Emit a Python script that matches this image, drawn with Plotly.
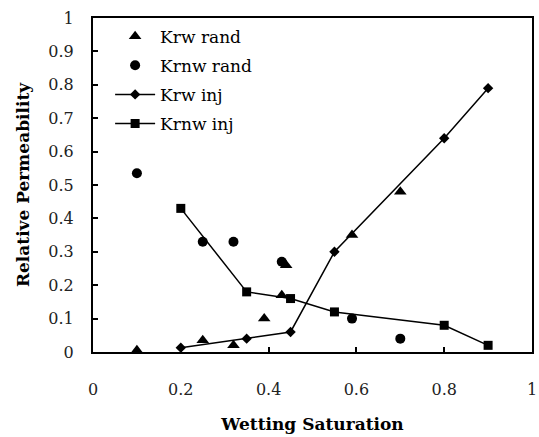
import plotly.graph_objects as go

# Relative permeability vs wetting saturation
krw_rand_x = [0.10, 0.25, 0.32, 0.39, 0.43, 0.44, 0.59, 0.70]
krw_rand_y = [0.005, 0.035, 0.02, 0.10, 0.17, 0.26, 0.35, 0.48]

krnw_rand_x = [0.10, 0.25, 0.32, 0.43, 0.59, 0.70]
krnw_rand_y = [0.535, 0.33, 0.33, 0.27, 0.10, 0.04]

krw_inj_x = [0.20, 0.35, 0.45, 0.55, 0.80, 0.90]
krw_inj_y = [0.013, 0.04, 0.06, 0.30, 0.64, 0.79]

krnw_inj_x = [0.20, 0.35, 0.45, 0.55, 0.80, 0.90]
krnw_inj_y = [0.43, 0.18, 0.16, 0.12, 0.08, 0.02]

x_ticks = [0, 0.2, 0.4, 0.6, 0.8, 1]
y_ticks = [0, 0.1, 0.2, 0.3, 0.4, 0.5, 0.6, 0.7, 0.8, 0.9, 1]

FONT = "DejaVu Serif"
BLACK = "black"

fig = go.Figure()
fig.add_trace(go.Scatter(
    x=krw_rand_x, y=krw_rand_y, mode="markers", name="Krw rand",
    legendgroup="g1",
    marker=dict(symbol="triangle-up", size=11, color=BLACK)))
fig.add_trace(go.Scatter(
    x=krnw_rand_x, y=krnw_rand_y, mode="markers", name="Krnw rand",
    legendgroup="g2",
    marker=dict(symbol="circle", size=10, color=BLACK)))
fig.add_trace(go.Scatter(
    x=krw_inj_x, y=krw_inj_y, mode="lines+markers", name="Krw inj",
    legendgroup="g3",
    line=dict(color=BLACK, width=1.5),
    marker=dict(symbol="diamond", size=8, color=BLACK)))
fig.add_trace(go.Scatter(
    x=krnw_inj_x, y=krnw_inj_y, mode="lines+markers", name="Krnw inj",
    legendgroup="g4",
    line=dict(color=BLACK, width=1.5),
    marker=dict(symbol="square", size=9, color=BLACK)))

axis_common = dict(
    showgrid=False, zeroline=False, showline=True, linecolor=BLACK,
    linewidth=2, mirror=True, ticks="inside", ticklen=5, tickcolor=BLACK,
    tickwidth=1.5, tickfont=dict(family=FONT, size=16, color="#222"),
    ticklabeloverflow="allow",
)

fig.update_layout(
    width=539, height=437,
    margin=dict(l=93, r=2, t=18, b=85),
    paper_bgcolor="white", plot_bgcolor="white",
    font=dict(family=FONT, color=BLACK),
    showlegend=True,
    legend=dict(x=0.039, y=0.998, xanchor="left", yanchor="top",
                bgcolor="rgba(0,0,0,0)", font=dict(family=FONT, size=17),
                tracegroupgap=4, itemwidth=40),
    xaxis=dict(range=[0, 1], tickvals=x_ticks,
               ticktext=[f"{v:g}" for v in x_ticks],
               ticklabelstandoff=22,
               title=dict(text="<b>Wetting Saturation</b>",
                          font=dict(family=FONT, size=17), standoff=20),
               **axis_common),
    yaxis=dict(range=[0, 1], tickvals=y_ticks,
               ticktext=[f"{v:g}" for v in y_ticks],
               ticklabelstandoff=14,
               title=dict(text="<b>Relative Permeability</b>",
                          font=dict(family=FONT, size=17), standoff=14),
               **axis_common),
)

fig.write_html("out.html")
